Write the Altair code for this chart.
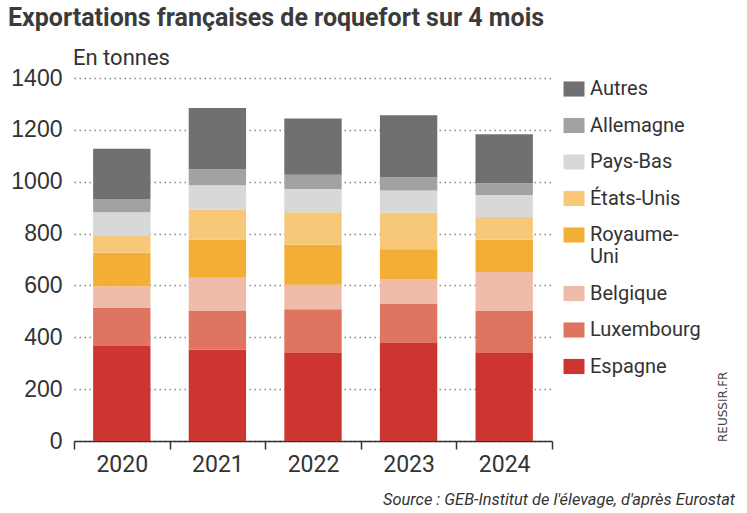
import altair as alt
import pandas as pd

years = ["2020", "2021", "2022", "2023", "2024"]
countries = ["Autres", "Allemagne", "Pays-Bas", "États-Unis", "Royaume-Uni",
             "Belgique", "Luxembourg", "Espagne"]
colors = ["#707070", "#a2a2a2", "#d8d8d8", "#f7c878", "#f2ae35",
          "#efbcaa", "#df7560", "#cc3532"]

espagne = [366, 352, 339, 378, 339]
luxembourg = [147, 151, 169, 152, 164]
belgique = [84, 127, 95, 95, 149]
royaume_uni = [129, 147, 155, 115, 124]
etats_unis = [68, 116, 124, 140, 88]
pays_bas = [88, 93, 90, 86, 85]
allemagne = [51, 62, 55, 51, 45]
autres = [194, 236, 217, 239, 189]

y_ticks = [0, 200, 400, 600, 800, 1000, 1200, 1400]

title_text = "Exportations françaises de roquefort sur 4 mois"
unit_text = "En tonnes"
source_text = "Source : GEB-Institut de l'élevage, d'après Eurostat"
brand_text = "REUSSIR.FR"

series = {
    "Espagne": espagne, "Luxembourg": luxembourg, "Belgique": belgique,
    "Royaume-Uni": royaume_uni, "États-Unis": etats_unis, "Pays-Bas": pays_bas,
    "Allemagne": allemagne, "Autres": autres,
}
stack_order = list(reversed(countries))
rows = []
for c, vals in series.items():
    for y, v in zip(years, vals):
        rows.append({"annee": y, "pays": c, "tonnes": v, "ordre": stack_order.index(c)})
df = pd.DataFrame(rows)

bars = alt.Chart(df).mark_bar(width=alt.RelativeBandSize(0.6)).encode(
    x=alt.X("annee:N", sort=years,
            scale=alt.Scale(paddingInner=0, paddingOuter=0),
            axis=alt.Axis(title="", labelAngle=0, labelFont="Roboto",
                          labelFontSize=23, labelColor="#333333", labelPadding=4,
                          domainColor="#333333", domainWidth=1.5,
                          tickColor="#333333", tickSize=8, tickWidth=1.5,
                          tickBand="extent", grid=False)),
    y=alt.Y("tonnes:Q", stack="zero",
            scale=alt.Scale(domain=[0, 1400], nice=False),
            axis=alt.Axis(title="", values=y_ticks, format="d", domain=False, ticks=False,
                          labelFont="Liberation Sans", labelFontSize=23,
                          labelColor="#333333", labelPadding=12,
                          grid=True, gridColor="#888888", gridDash=[1.5, 3.5],
                          gridWidth=1.5)),
    color=alt.Color("pays:N", sort=countries,
                    scale=alt.Scale(domain=countries, range=colors),
                    legend=alt.Legend(title="", orient="none", legendX=489.5, legendY=0.5,
                                      padding=0,
                                      symbolType="M-1,-0.72H1V0.72H-1Z",
                                      symbolSize=441, symbolStrokeWidth=0,
                                      symbolOpacity=1,
                                      labelFont="Roboto",
                                      labelFontSize=20, labelColor="#333333",
                                      labelOffset=5.5, rowPadding=15.5,
                                      labelLimit=200,
                                      labelExpr="datum.label == 'Royaume-Uni' ? ['Royaume-', 'Uni'] : datum.label")),
    order=alt.Order("ordre:Q", sort="ascending"),
)

title_layer = alt.Chart(pd.DataFrame({"t": [title_text]})).mark_text(
    align="left", baseline="alphabetic", font="Roboto",
    fontWeight="bold", fontSize=25, color="#3b3b3b"
).encode(text="t:N", x=alt.value(-66), y=alt.value(-52))

unit_layer = alt.Chart(pd.DataFrame({"t": [unit_text]})).mark_text(
    align="left", baseline="alphabetic", font="Roboto",
    fontSize=22, color="#333333"
).encode(text="t:N", x=alt.value(-1), y=alt.value(-13))

source_layer = alt.Chart(pd.DataFrame({"t": [source_text]})).mark_text(
    align="right", baseline="alphabetic", font="Roboto",
    fontStyle="italic", fontSize=16.4, color="#333333"
).encode(text="t:N", x=alt.value(661), y=alt.value(427))

brand_layer = alt.Chart(pd.DataFrame({"t": [brand_text]})).mark_text(
    align="left", baseline="alphabetic", font="DejaVu Sans",
    fontSize=12, color="#444444", angle=270
).encode(text="t:N", x=alt.value(653), y=alt.value(364))

chart = alt.layer(bars, title_layer, unit_layer, source_layer, brand_layer).properties(
    width=478, height=363,
    autosize=alt.AutoSizeParams(type="none"),
    padding={"left": 74, "top": 78, "right": 195, "bottom": 72},
    background="white",
).configure_view(stroke=None)

chart.save("out.html", embed_options={"renderer": "svg", "actions": False})
